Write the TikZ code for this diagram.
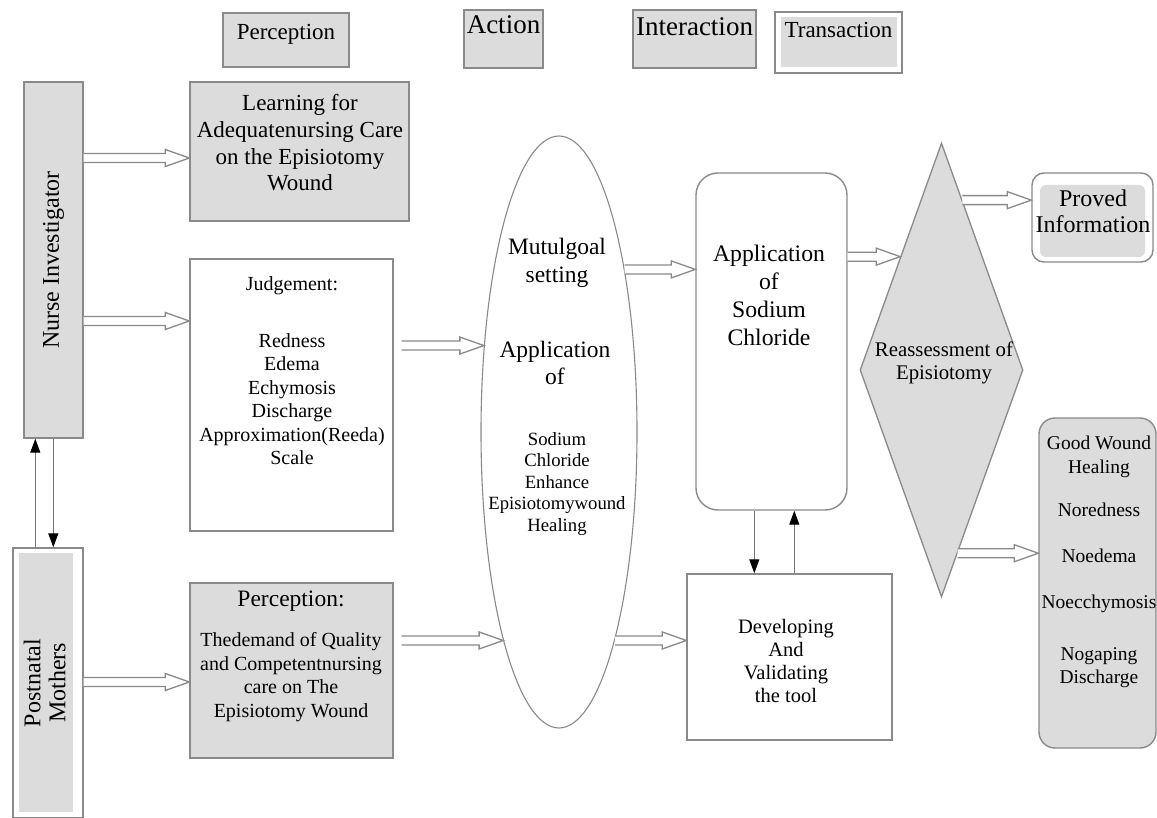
\documentclass[tikz,border=0pt]{standalone}
\usepackage{fontspec}
\setmainfont{Liberation Serif}
\usepackage{graphicx}
\usetikzlibrary{shapes.geometric,arrows.meta,calc}
\definecolor{bordergray}{HTML}{8A8A8A}
\definecolor{boxgray}{HTML}{DCDCDC}
\newcommand\fsz[2]{\fontsize{#1}{#2}\selectfont}
\tikzset{
 box/.style={draw=bordergray, line width=1.4pt, inner sep=0pt, rectangle},
 graybox/.style={box, fill=boxgray},
 whitebox/.style={box, fill=white},
 txt/.style={align=center, inner sep=0pt},
 thinarrow/.style={draw=gray!90!black, line width=1.1pt, -{Triangle[length=14pt,width=10pt,color=black]}},
 hollow/.style={draw=bordergray, line width=1.3pt, fill=white, line join=miter},
}
\newcommand\blockarrow[2]{%
  \path #1 coordinate (bas) #2 coordinate (bae);
  \draw[hollow] let \p1=(bas), \p2=(bae) in
    (\x1,{\y1+4.5pt}) -- ({\x2-24pt},{\y1+4.5pt}) -- ({\x2-24pt},{\y1+8.5pt}) -- (\x2,\y1)
    -- ({\x2-24pt},{\y1-8.5pt}) -- ({\x2-24pt},{\y1-4.5pt}) -- (\x1,{\y1-4.5pt});
}
\begin{document}
\begin{tikzpicture}[x=1pt,y=-1pt]
\useasboundingbox[fill=white] (0,0) rectangle (1157,818);

% top labels
\node[graybox, anchor=base, minimum width=126pt, text height=26.6pt, text depth=27.4pt, font={\fsz{23}{27}}] (tperc) at (286,39.6) {Perception};
\node[graybox, anchor=base, minimum width=79pt, text height=24pt, text depth=34pt, font={\fsz{27}{31}}] (tact) at (503.5,34) {Action};
\node[graybox, anchor=base, minimum width=123pt, text height=26pt, text depth=32pt, font={\fsz{27}{31}}] (tint) at (694.5,36) {Interaction};
\node[whitebox, anchor=base, minimum width=127pt, text height=25.6pt, text depth=35.4pt, font={\fsz{23}{27}},
  path picture={\fill[boxgray] ([shift={(6pt,-5pt)}]path picture bounding box.north west) rectangle ([shift={(-5pt,6pt)}]path picture bounding box.south east);}] (ttrans) at (838.5,37.6) {Transaction};

% left actors
\node[graybox, minimum width=59pt, minimum height=356pt] (nurse) at (53.5,260) {\rotatebox{90}{\fsz{24}{28}Nurse Investigator}};
\node[whitebox, minimum width=70pt, minimum height=270pt,
  path picture={\fill[boxgray] ([shift={(6pt,-5pt)}]path picture bounding box.north west) rectangle ([shift={(-10pt,6pt)}]path picture bounding box.south east);}] (post) at (48,683)
  {\rotatebox{90}{\fsz{24}{25}\begin{tabular}{@{}c@{}}Postnatal\\Mothers\end{tabular}}};

% perception column
\node[graybox, minimum width=219pt, minimum height=139pt] (learn) at (299.5,151.5) {};
\node[txt, font={\fsz{23}{26.7}}] (learnT) at (300,143) {Learning for\\Adequatenursing Care\\on the Episiotomy\\Wound};

\node[whitebox, minimum width=203pt, minimum height=272pt] (judge) at (291.5,395) {};
\node[txt, font={\fsz{20}{23.5}}] (judgeT) at (292,371) {Judgement:\\[33pt]Redness\\Edema\\Echymosis\\Discharge\\Approximation(Reeda)\\Scale};

\node[graybox, minimum width=203pt, minimum height=175pt] (perc) at (291.5,670.5) {};
\node[txt, font={\fsz{23.5}{28}}] (percH) at (291,601) {Perception:};
\node[txt, font={\fsz{20}{23.5}}] (percT) at (291,677) {Thedemand of Quality\\and Competentnursing\\care on The\\Episiotomy Wound};

% action ellipse
\node[draw=bordergray, line width=1.1pt, fill=white, ellipse, minimum width=156pt, minimum height=592pt, inner sep=0pt] (ell) at (559,432) {};
\node[txt, font={\fsz{23.5}{28}}] (ellA) at (557,263) {Mutulgoal\\setting};
\node[txt, font={\fsz{23.5}{27}}] (ellB) at (555,363) {Application\\of};
\node[txt, font={\fsz{18.7}{21.5}}] (ellC) at (557,484) {Sodium\\Chloride\\Enhance\\Episiotomywound\\Healing};

% interaction
\node[whitebox, rounded corners=22pt, minimum width=151pt, minimum height=337pt] (app) at (771.5,341.5) {};
\node[txt, font={\fsz{23.7}{28}}] (appT) at (769,295) {Application\\of\\Sodium\\Chloride};

\node[whitebox, minimum width=205pt, minimum height=166pt] (dev) at (789.5,657) {};
\node[txt, font={\fsz{20.5}{23}}] (devT) at (786,661) {Developing\\And\\Validating\\the tool};

% transaction
\node[draw=bordergray, line width=1.3pt, fill=boxgray, diamond, minimum width=163pt, minimum height=454pt, inner sep=0pt] (reass) at (941.5,370) {};
\node[txt, font={\fsz{20.8}{23}}] (reassT) at (944,363) {Reassessment of\\Episiotomy};

\node[whitebox, rounded corners=12pt, minimum width=121pt, minimum height=89pt,
  path picture={\fill[boxgray, rounded corners=6pt] ([shift={(8pt,-12pt)}]path picture bounding box.north west) rectangle ([shift={(-8pt,5pt)}]path picture bounding box.south east);}] (proved) at (1092.5,217.5) {};
\node[txt, font={\fsz{24}{26}}] (provedT) at (1093,211) {Proved\\Information};

\node[graybox, rounded corners=16pt, minimum width=117pt, minimum height=330pt] (good) at (1097.5,583) {};
\node[txt, font={\fsz{19.5}{23.5}}] (goodT) at (1099,562) {Good Wound\\Healing\\[20pt]Noredness\\[22pt]Noedema\\[23pt]Noecchymosis\\[28pt]Nogaping\\Discharge};

% hollow arrows
\coordinate (a1) at ($(learn.west)+(0,6.5)$);
\coordinate (a2) at ($(judge.west)+(0,-74)$);
\coordinate (a3) at ($(perc.west)+(0,11.5)$);
\blockarrow{(nurse.east |- a1)}{(a1)}
\blockarrow{(nurse.east |- a2)}{(a2)}
\blockarrow{(post.east |- a3)}{(a3)}
\blockarrow{($(judge.east |- ell.131)+(8,0)$)}{(ell.131)}
\blockarrow{($(perc.east |- ell.255)+(8,0)$)}{(ell.255)}
\blockarrow{(ell.68)}{(app.west |- ell.68)}
\blockarrow{(ell.-75)}{(dev.west |- ell.-75)}
\blockarrow{(app.east |- reass.110)}{(reass.110)}
\blockarrow{(reass.83)}{(proved.west |- reass.83)}
\blockarrow{(reass.-85)}{(good.west |- reass.-85)}

% thin arrows
\coordinate (n1) at ($(nurse.south west)+(12,0)$);
\coordinate (n2) at ($(nurse.south west)+(30,0)$);
\draw[thinarrow] (n1 |- post.north) -- (n1);
\draw[thinarrow] (n2) -- (n2 |- post.north);
\coordinate (d1) at ($(app.south west)+(59,0)$);
\coordinate (d2) at ($(app.south west)+(99,0)$);
\draw[thinarrow] (d1) -- (d1 |- dev.north);
\draw[thinarrow] (d2 |- dev.north) -- (d2);
\end{tikzpicture}
\end{document}
